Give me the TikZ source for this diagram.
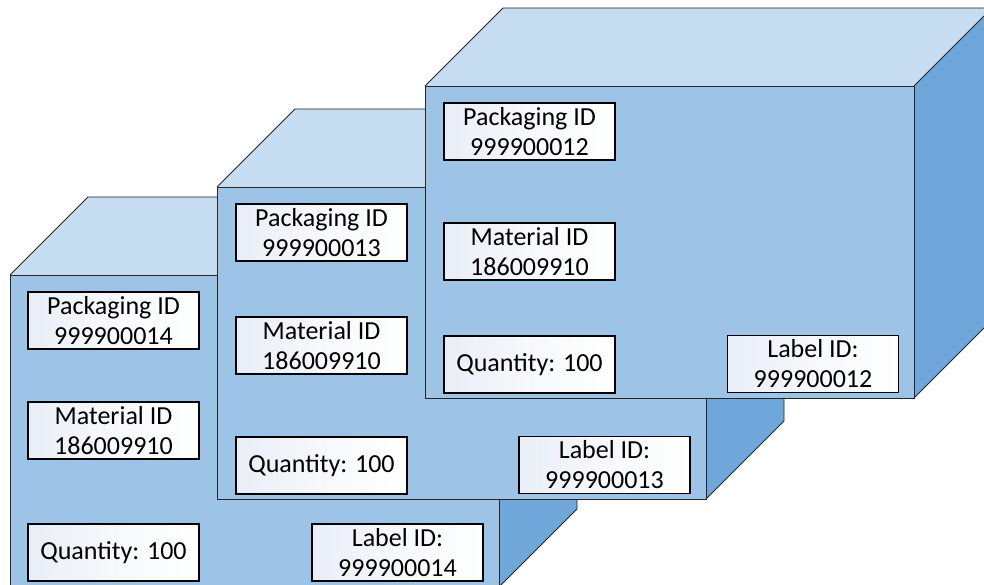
\documentclass[tikz,border=0pt]{standalone}
\usepackage{fontspec}
\setmainfont{Carlito}
\definecolor{topc}{HTML}{C6DCF0}
\definecolor{frontc}{HTML}{9DC3E6}
\definecolor{sidec}{HTML}{70A7DA}
\definecolor{boxc}{HTML}{E9EEF7}
\newcommand\drawcube[2]{%
  \fill[topc] (#1,#2) -- (#1+78,#2-78) -- (#1+567,#2-78) -- (#1+489,#2) -- cycle;
  \fill[sidec] (#1+489,#2) -- (#1+567,#2-78) -- (#1+567,#2+234) -- (#1+489,#2+312) -- cycle;
  \fill[frontc] (#1,#2) rectangle (#1+489,#2+312);
  \draw[face] (#1,#2) -- (#1+78,#2-78) -- (#1+567,#2-78) -- (#1+489,#2);
  \draw[face] (#1+567,#2-78) -- (#1+567,#2+234) -- (#1+489,#2+312);
  \draw[face] (#1,#2) rectangle (#1+489,#2+312);
}
\begin{document}
\begin{tikzpicture}[x=1pt,y=-1pt,
  face/.style={draw=black!85, line width=0.8pt, line join=miter},
  lbl/.style={draw=black, line width=1.4pt, left color=boxc, right color=white,
    middle color=white!60!boxc,
    minimum width=171pt, minimum height=57pt, inner sep=0pt, align=center,
    font=\fontsize{26}{30}\selectfont, text=black}]
\useasboundingbox (0,0) rectangle (984,585);
\clip (0,0) rectangle (984,585);
% front-left cube (drawn first)
\drawcube{10}{275}
\node[lbl] (p1) at (113.5,320.5) {Packaging ID\\999900014};
\node[lbl] (m1) at (113.5,430.5) {Material ID\\186009910};
\node[lbl] (q1) at (113.5,552.5) {Quantity: 100};
\node[lbl] (l1) at (397.5,552.5) {Label ID:\\999900014};
% middle cube
\drawcube{217}{187}
\node[lbl] (p2) at (321.5,232.5) {Packaging ID\\999900013};
\node[lbl] (m2) at (321.5,345.5) {Material ID\\186009910};
\node[lbl] (q2) at (321.5,465.5) {Quantity: 100};
\node[lbl] (l2) at (604.5,465) {Label ID:\\999900013};
% top-right cube (drawn last)
\drawcube{425}{86}
\node[lbl] (p3) at (529.5,131.5) {Packaging ID\\999900012};
\node[lbl] (m3) at (529.5,251.5) {Material ID\\186009910};
\node[lbl] (q3) at (529.5,364.5) {Quantity: 100};
\node[lbl] (l3) at (813,364) {Label ID:\\999900012};
\end{tikzpicture}
\end{document}
